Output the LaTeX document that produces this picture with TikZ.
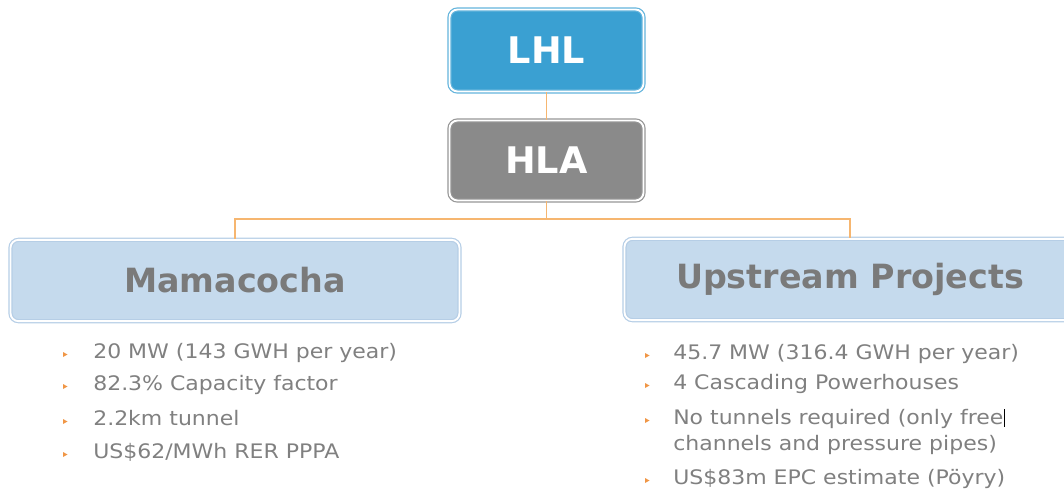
\documentclass[tikz,border=0pt]{standalone}
\usepackage{fontspec}
\setmainfont{DejaVu Sans}
\newfontfamily\listfont[FakeStretch=1.1]{DejaVu Sans}
\definecolor{lhlFill}{RGB}{58,160,210}
\definecolor{lhlEdge}{RGB}{100,180,220}
\definecolor{hlaFill}{RGB}{138,138,138}
\definecolor{hlaEdge}{RGB}{150,150,150}
\definecolor{projFill}{RGB}{197,218,237}
\definecolor{projEdge}{RGB}{182,206,230}
\definecolor{linkOrange}{RGB}{246,182,112}
\definecolor{bulletOrange}{RGB}{240,150,70}
\definecolor{bodyGray}{RGB}{128,128,128}
\definecolor{headGray}{RGB}{122,122,122}
\begin{document}
\begin{tikzpicture}[x=0.75pt,y=-0.75pt,
  panel/.style={rounded corners=6pt, line width=0.9pt, double=white,
    double distance=1.4pt, inner sep=0pt},
  topbox/.style={panel, draw=lhlEdge, fill=lhlFill, text=white,
    font=\bfseries\fontsize{27.5}{30}\selectfont,
    minimum width=145.5pt, minimum height=61.5pt},
  midbox/.style={panel, draw=hlaEdge, fill=hlaFill, text=white,
    font=\bfseries\fontsize{27.5}{30}\selectfont,
    minimum width=145.5pt, minimum height=60pt},
  projbox/.style={panel, draw=projEdge, fill=projFill, text=headGray,
    font=\bfseries\fontsize{25}{28}\selectfont, minimum height=61pt},
  link/.style={draw=linkOrange, line width=1.1pt},
  item/.style={anchor=base west, inner sep=0pt, text=bodyGray,
    font=\listfont\fontsize{15}{18}\selectfont}
]
\useasboundingbox (0,0) rectangle (1064,489);

% organisation boxes
\node[topbox] (lhl) at (546.5,50.5) {LHL};
\node[midbox] (hla) at (546.5,160.5) {HLA};
\node[projbox, minimum width=336.75pt] (mama) at (235,280.5) {Mamacocha};
\node[projbox, minimum width=338.25pt] (up) at (850,279.5) {Upstream Projects};

% connectors
\coordinate (bus) at (0,219);
\path[link] (lhl.south) -- (hla.north);
\path[link] (hla.south) -- (hla.south |- bus) -| (mama.north);
\path[link] (hla.south |- bus) -| (up.north);

% bullet marker
\newcommand{\tick}[2]{\fill[bulletOrange] (#1-2,#2-6) -- (#1+2.5,#2-3.5) -- (#1-2,#2-1) -- cycle;}

% Mamacocha items
\node[item] (m1) at (93,358) {20 MW (143 GWH per year)};
\node[item] (m2) at (93,390) {82.3\% Capacity factor};
\node[item] (m3) at (93,425) {2.2km tunnel};
\node[item] (m4) at (93,458) {US\$62/MWh RER PPPA};
\tick{65}{358}\tick{65}{390}\tick{65}{425}\tick{65}{458}

% Upstream items
\node[item] (u1) at (673,359) {45.7 MW (316.4 GWH per year)};
\node[item] (u2) at (673,389) {4 Cascading Powerhouses};
\node[item] (u3) at (673,424) {No tunnels required (only free};
\node[item] (u3b) at (673,450) {channels and pressure pipes)};
\node[item] (u4) at (673,484) {US\$83m EPC estimate (Pöyry)};
\tick{647}{359}\tick{647}{389}\tick{647}{424}\tick{647}{484}

% text cursor
\draw[black, line width=0.8pt] (u3.east) ++(1,-9) -- ++(0,18);
\end{tikzpicture}
\end{document}
